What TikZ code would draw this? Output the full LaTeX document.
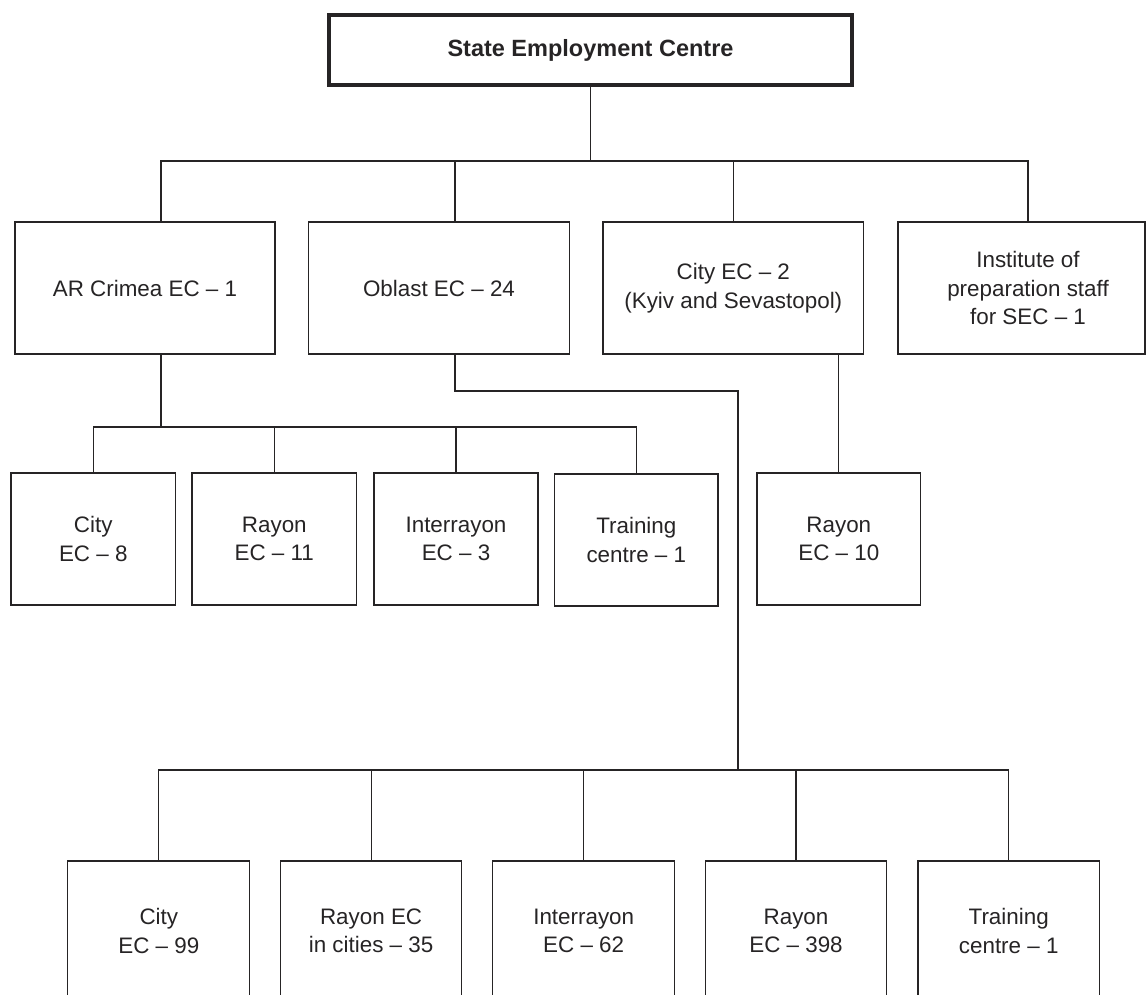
\documentclass[tikz,border=0pt]{standalone}
\usepackage{fontspec}
\setmainfont{Liberation Sans}
\definecolor{ink}{RGB}{38,36,37}
\begin{document}
\begin{tikzpicture}[x=1pt,y=-1pt,
  box/.style={draw=ink,line width=1.3pt,inner sep=0pt,align=center,text=ink,
    font=\fontsize{22.4}{28.5}\selectfont},
  lbl/.style={inner sep=0pt,align=center,text=ink,font=\fontsize{22.4}{28.5}\selectfont},
  topbox/.style={draw=ink,line width=3.2pt,inner sep=0pt,align=center,text=ink,
    font=\fontsize{23.5}{28}\selectfont\bfseries},
  conn/.style={draw=ink,line width=1.2pt}]
\useasboundingbox (0,0) rectangle (1147,994);
\clip (0,0) rectangle (1147,994);
% helper coordinates
\coordinate (bus1) at (0,161);
\coordinate (bus2) at (0,427);
\coordinate (bus3) at (0,770);
\coordinate (xAR) at (161,0);
\coordinate (xOb) at (455,0);
\coordinate (xInst) at (1028,0);
\coordinate (turn) at (738,391);
% top
\node[topbox,minimum width=523,minimum height=70] (top) at (590.5,50) {State Employment Centre};
% level 1
\node[box,minimum width=260,minimum height=132] (AR) at (145,288) {AR Crimea EC – 1};
\node[box,minimum width=261,minimum height=132] (Ob) at (439,288) {Oblast EC – 24};
\node[box,minimum width=260.6,minimum height=132] (CityEC) at (733.3,288) {City EC – 2\\(Kyiv and Sevastopol)};
\node[box,minimum width=247,minimum height=132] (Inst) at (1021.5,288) {};
\node[lbl] (InstT) at (1028,288) {Institute of\\preparation staff\\for SEC – 1};
% level 2 (AR)
\node[box,minimum width=164.5,minimum height=132] (C8) at (93.25,539) {City\\EC – 8};
\node[box,minimum width=164.5,minimum height=132] (R11) at (274.3,539) {Rayon\\EC – 11};
\node[box,minimum width=164,minimum height=132] (I3) at (456,539) {Interrayon\\EC – 3};
\node[box,minimum width=163.5,minimum height=132] (T1) at (636.3,540) {Training\\centre – 1};
% level 2 (City EC)
\node[box,minimum width=163.5,minimum height=132] (R10) at (838.8,539) {Rayon\\EC – 10};
% level 3 (Oblast)
\node[box,minimum width=182,minimum height=140] (C99) at (158.8,931) {City\\EC – 99};
\node[box,minimum width=181,minimum height=140] (R35) at (371.1,931) {Rayon EC\\in cities – 35};
\node[box,minimum width=182,minimum height=140] (I62) at (583.7,931) {Interrayon\\EC – 62};
\node[box,minimum width=181.5,minimum height=140] (R398) at (796,931) {Rayon\\EC – 398};
\node[box,minimum width=181.6,minimum height=140] (T1b) at (1008.7,931) {Training\\centre – 1};
% connectors level 1
\draw[conn] (top.south) -- (top.south |- bus1);
\draw[conn] (xAR |- AR.north) |- (xInst |- bus1) -- (xInst |- Inst.north);
\draw[conn] (xOb |- Ob.north) -- (xOb |- bus1);
\draw[conn] (CityEC.north) -- (CityEC.north |- bus1);
% connectors AR
\draw[conn] (xAR |- AR.south) -- (xAR |- bus2);
\draw[conn] (C8.north) |- (T1.north |- bus2) -- (T1.north);
\draw[conn] (R11.north) -- (R11.north |- bus2);
\draw[conn] (I3.north) -- (I3.north |- bus2);
% connector City EC
\draw[conn] (R10.north |- CityEC.south) -- (R10.north);
% connectors Oblast
\draw[conn] (xOb |- Ob.south) |- (turn) -- (turn |- bus3);
\draw[conn] (C99.north) |- (T1b.north |- bus3) -- (T1b.north);
\draw[conn] (R35.north) -- (R35.north |- bus3);
\draw[conn] (I62.north) -- (I62.north |- bus3);
\draw[conn] (R398.north) -- (R398.north |- bus3);
\end{tikzpicture}
\end{document}
